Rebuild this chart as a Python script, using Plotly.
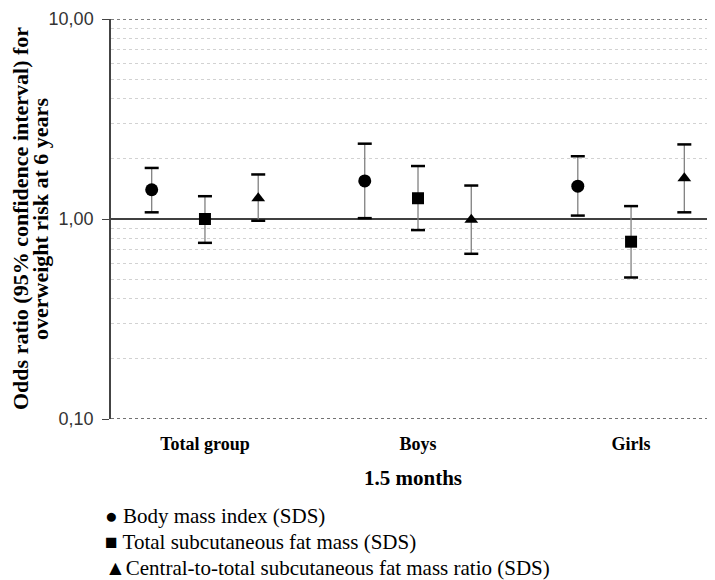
import plotly.graph_objects as go

categories = ["Total group", "Boys", "Girls"]
series_names = ["Body mass index (SDS)", "Total subcutaneous fat mass (SDS)",
                "Central-to-total subcutaneous fat mass ratio (SDS)"]
series_symbols = ["circle", "square", "triangle-up"]
legend_glyphs = ["\u25CF ", "\u25A0 ", "\u25B2"]

or_bmi = [1.40, 1.55, 1.46]
lo_bmi = [1.08, 1.01, 1.04]
hi_bmi = [1.80, 2.38, 2.06]

or_fat = [1.00, 1.27, 0.77]
lo_fat = [0.76, 0.88, 0.51]
hi_fat = [1.30, 1.84, 1.16]

or_ratio = [1.27, 0.99, 1.60]
lo_ratio = [0.98, 0.67, 1.08]
hi_ratio = [1.67, 1.47, 2.36]

y_ticks = [0.1, 1, 10]
y_ticktext = ["0,10", "1,00", "10,00"]
minor_vals = [0.2, 0.3, 0.4, 0.5, 0.6, 0.7, 0.8, 0.9, 2, 3, 4, 5, 6, 7, 8, 9]

y_title_lines = ["Odds ratio (95% confidence interval) for", "overweight risk at 6 years"]
x_title = "1.5 months"

offsets = [-0.25, 0.0, 0.25]
series = [(or_bmi, lo_bmi, hi_bmi), (or_fat, lo_fat, hi_fat), (or_ratio, lo_ratio, hi_ratio)]

# page body has an 8px default margin -> figure drawn at (8, 8)
PAGE_OFF = 8
W, H = 715 - PAGE_OFF, 580 - PAGE_OFF
L, T = 111 - PAGE_OFF, 19 - PAGE_OFF
PW, PH = W - L, 400
B = H - T - PH

fig = go.Figure()
for k, (est, lo, hi) in enumerate(series):
    xs = [i + offsets[k] for i in range(len(categories))]
    fig.add_trace(go.Scatter(
        x=xs, y=est, mode="markers", showlegend=False, name=series_names[k],
        marker=dict(symbol=series_symbols[k], size=13 if k == 0 else 12, color="black"),
        error_y=dict(type="data", symmetric=False,
                     array=[h - e for h, e in zip(hi, est)],
                     arrayminus=[e - l for e, l in zip(est, lo)],
                     color="#808080", thickness=1.3, width=0),
    ))
    fig.add_trace(go.Scatter(
        x=xs + xs, y=list(lo) + list(hi), mode="markers", showlegend=False, hoverinfo="skip",
        marker=dict(symbol="line-ew", size=10, color="black", line=dict(color="black", width=2.5)),
    ))

# reference lines / frame
fig.add_shape(type="line", xref="paper", x0=0, x1=1, yref="y", y0=1, y1=1,
              line=dict(color="#404040", width=2), layer="below")
fig.add_shape(type="line", xref="paper", x0=0, x1=1, yref="y", y0=10, y1=10,
              line=dict(color="#555555", width=1.5, dash="dot"), layer="below")
fig.add_shape(type="line", xref="paper", x0=0, x1=1, yref="y", y0=0.1, y1=0.1,
              line=dict(color="#444444", width=1.5, dash="dot"), layer="below")

fig.update_xaxes(
    range=[-0.441, 2.394], tickvals=list(range(len(categories))),
    ticktext=["<b>" + c + "</b>" for c in categories],
    showgrid=False, zeroline=False, showline=False, ticks="", automargin=False,
    ticklabelstandoff=12,
    tickfont=dict(family="Liberation Serif", size=18, color="black"),
)
fig.update_yaxes(
    type="log", range=[-1, 1], tickvals=y_ticks, ticktext=y_ticktext, automargin=False,
    showgrid=False, zeroline=False, showline=True, linecolor="#444444", linewidth=1.5,
    ticks="outside", ticklen=7, tickcolor="#444444", ticklabelstandoff=5,
    tickfont=dict(family="Liberation Sans", size=18, color="#333333"),
    minor=dict(tickvals=minor_vals, showgrid=True, gridcolor="#d2d2d2", griddash="dot",
               gridwidth=1, ticks=""),
)

# axis titles as annotations
fig.add_annotation(xref="paper", yref="paper", x=0.5, y=-0.1475, xanchor="center", yanchor="middle",
                   text="<b>" + x_title + "</b>", showarrow=False,
                   font=dict(family="Liberation Serif", size=21, color="black"))
for j, line in enumerate(y_title_lines):
    fig.add_annotation(xref="paper", yref="paper", x=(20 - PAGE_OFF + 20 * j - L) / PW, y=0.5,
                       xanchor="center", yanchor="middle", textangle=-90,
                       text="<b>" + line + "</b>", showarrow=False,
                       font=dict(family="Liberation Serif", size=22, color="black"))

# legend as text
for k, name in enumerate(series_names):
    fig.add_annotation(
        xref="paper", yref="paper", x=(103 - PAGE_OFF - L) / PW, y=-0.243 - 0.065 * k,
        xanchor="left", yanchor="middle",
        text=legend_glyphs[k] + name, showarrow=False,
        font=dict(family="Liberation Serif", size=21, color="black"),
    )

fig.update_layout(
    width=W, height=H, margin=dict(l=L, r=0, t=T, b=B, autoexpand=False),
    plot_bgcolor="white", paper_bgcolor="white",
)

fig.write_html("out.html")
